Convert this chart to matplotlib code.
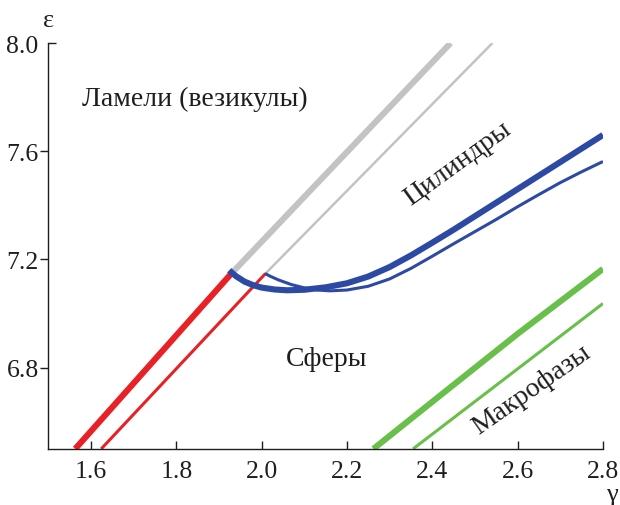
import matplotlib
matplotlib.use("Agg")
import matplotlib.pyplot as plt

# Phase boundaries in the (gamma, epsilon) plane
lam_thick_g = [1.563, 1.929]
lam_thick_e = [6.50, 7.148]
lam_thin_g = [1.624, 2.009]
lam_thin_e = [6.50, 7.148]

ves_thick_g = [1.929, 2.443]
ves_thick_e = [7.148, 8.00]
ves_thin_g = [2.009, 2.541]
ves_thin_e = [7.148, 8.00]

cyl_thick_g = [1.924, 1.928, 1.94, 1.96, 1.98, 2.00, 2.03, 2.06, 2.10, 2.15, 2.20,
               2.25, 2.30, 2.35, 2.40, 2.45, 2.50, 2.55, 2.60, 2.65, 2.70, 2.75, 2.80]
cyl_thick_e = [7.160, 7.154, 7.138, 7.118, 7.105, 7.096, 7.089, 7.086, 7.088, 7.097, 7.112,
               7.137, 7.172, 7.215, 7.262, 7.31, 7.36, 7.41, 7.46, 7.51, 7.56, 7.61, 7.66]
cyl_thin_g = [2.008, 2.02, 2.04, 2.07, 2.10, 2.13, 2.16, 2.20, 2.25, 2.30, 2.35,
              2.40, 2.45, 2.50, 2.55, 2.60, 2.65, 2.70, 2.75, 2.80]
cyl_thin_e = [7.148, 7.138, 7.124, 7.107, 7.095, 7.087, 7.084, 7.087, 7.101, 7.128, 7.167,
              7.212, 7.258, 7.303, 7.348, 7.395, 7.44, 7.484, 7.524, 7.562]

mac_thick_g = [2.262, 2.40, 2.60, 2.80]
mac_thick_e = [6.50, 6.674, 6.925, 7.165]
mac_thin_g = [2.355, 2.80]
mac_thin_e = [6.50, 7.037]

x_ticks = [1.6, 1.8, 2.0, 2.2, 2.4, 2.6, 2.8]
y_ticks = [6.8, 7.2, 7.6]
y_top = 8.0

RED = "#e82127"
BLUE = "#2c4aa3"
GRAY = "#c3c3c3"
GREEN = "#68c04a"
INK = "#1e1e1e"
THICK = 4.4
THIN = 2.2
TICK_FS = 18.5
TEXT_FS = 20

plt.rcParams["font.family"] = ["Liberation Serif", "DejaVu Serif"]

fig = plt.figure(figsize=(6.2, 5.06), dpi=100)
ax = fig.add_axes([0.078, 0.111, 0.8945, 0.802])

ax.plot(ves_thick_g, ves_thick_e, color=GRAY, lw=THICK, solid_capstyle="butt")
ax.plot(ves_thin_g, ves_thin_e, color=GRAY, lw=1.8, solid_capstyle="butt")
ax.plot(lam_thick_g, lam_thick_e, color=RED, lw=THICK, solid_capstyle="butt")
ax.plot(lam_thin_g, lam_thin_e, color=RED, lw=THIN, solid_capstyle="butt")
ax.plot(cyl_thick_g, cyl_thick_e, color=BLUE, lw=THICK, solid_capstyle="butt",
        solid_joinstyle="round")
ax.plot(cyl_thin_g, cyl_thin_e, color=BLUE, lw=THIN, solid_capstyle="butt",
        solid_joinstyle="round")
ax.plot(mac_thick_g, mac_thick_e, color=GREEN, lw=THICK, solid_capstyle="butt")
ax.plot(mac_thin_g, mac_thin_e, color=GREEN, lw=THIN, solid_capstyle="butt")

ax.set_xlim(1.5, 2.8)
ax.set_ylim(6.5, 8.0)

for side in ("top", "right"):
    ax.spines[side].set_visible(False)
for side in ("left", "bottom"):
    ax.spines[side].set_linewidth(1.0)
    ax.spines[side].set_color(INK)

ax.set_xticks(x_ticks, labels=[f"{v:.1f}" for v in x_ticks])
ax.set_yticks(y_ticks, labels=[f"{v:.1f}" for v in y_ticks])
ax.set_yticks([y_top], labels=[f"{y_top:.1f}"], minor=True)
ax.tick_params(axis="x", direction="in", length=6, width=1.0, pad=8,
               labelsize=TICK_FS, colors=INK)
ax.tick_params(axis="y", which="major", direction="out", length=6, width=1.0,
               pad=1, labelsize=TICK_FS, colors=INK)
ax.tick_params(axis="y", which="minor", direction="in", length=6, width=1.0,
               pad=7, labelsize=TICK_FS, colors=INK)

ax.text(0.001, 1.057, "ε", transform=ax.transAxes, ha="center", va="center",
        fontsize=19, color=INK)
ax.text(1.016, -0.111, "γ", transform=ax.transAxes, ha="center", va="center",
        fontsize=19, color=INK)

ax.text(1.579, 7.796, "Ламели (везикулы)", ha="left", va="center",
        fontsize=TEXT_FS, color=INK)
ax.text(2.152, 6.833, "Сферы", ha="center", va="center",
        fontsize=TEXT_FS, color=INK)
ax.text(2.459, 7.556, "Цилиндры", ha="center", va="center", rotation=36,
        rotation_mode="anchor", fontsize=TEXT_FS, color=INK)
ax.text(2.632, 6.719, "Макрофазы", ha="center", va="center", rotation=35,
        rotation_mode="anchor", fontsize=TEXT_FS, color=INK)

fig.savefig("out.png", dpi=100)
